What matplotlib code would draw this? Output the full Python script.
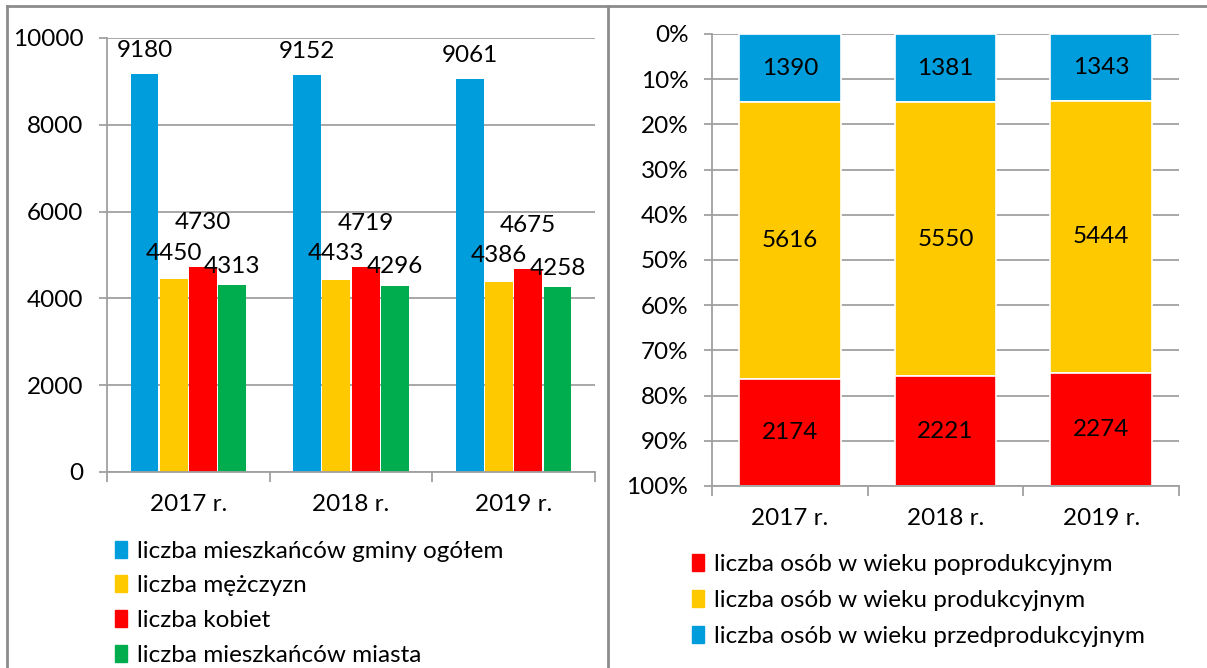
import numpy as np
import matplotlib.pyplot as plt
from matplotlib.patches import Patch
from matplotlib.lines import Line2D
from matplotlib.ticker import FuncFormatter

plt.rcParams['font.family'] = ['Lato', 'DejaVu Sans']

# data
years = ['2017 r.', '2018 r.', '2019 r.']
ogolem = [9180, 9152, 9061]
mezczyzni = [4450, 4433, 4386]
kobiety = [4730, 4719, 4675]
miasto = [4313, 4296, 4258]

przedprod = [1390, 1381, 1343]
produkcyjny = [5616, 5550, 5444]
poprod = [2174, 2221, 2274]

BLUE = '#009ddc'
YELLOW = '#ffc900'
RED = '#ff0000'
GREEN = '#00ad4e'
GRID = '#a0a0a0'
FS = 17.5

W, H = 1207, 668
fig = plt.figure(figsize=(W / 100, H / 100), dpi=100)


def px(x0, y0, x1, y1):
    # pixel box -> figure fraction rect
    return [x0 / W, 1 - y1 / H, (x1 - x0) / W, (y1 - y0) / H]


def style_axes(ax):
    for s in ['top', 'right']:
        ax.spines[s].set_visible(False)
    for s in ['left', 'bottom']:
        ax.spines[s].set_color(GRID)
        ax.spines[s].set_linewidth(1.3)
    ax.grid(axis='y', color=GRID, linewidth=1.3)
    ax.set_axisbelow(True)
    ax.tick_params(axis='y', length=6, width=1.3, color=GRID, labelsize=FS, pad=11)
    ax.tick_params(axis='x', which='minor', length=7, width=1.3, color=GRID)
    ax.tick_params(axis='x', which='major', length=0, labelsize=FS, pad=16)


# left chart: grouped bars
ax1 = fig.add_axes(px(107, 38, 595, 472))
x = np.arange(len(years))
bw = 0.18
# (values, colour, legend label, label offset in pt above bar top)
series = [(ogolem, BLUE, 'liczba mieszkańców gminy ogółem', 16.5),
          (mezczyzni, YELLOW, 'liczba mężczyzn', 18.5),
          (kobiety, RED, 'liczba kobiet', 31.5),
          (miasto, GREEN, 'liczba mieszkańców miasta', 13.5)]
for i, (vals, col, lab, off) in enumerate(series):
    pos = x + (i - 1.5) * bw
    ax1.bar(pos, vals, bw * 0.95, color=col, label=lab, zorder=2)
    for p, v in zip(pos, vals):
        ax1.annotate(str(v), (p, v), xytext=(0, off), textcoords='offset points',
                     ha='center', va='center', fontsize=FS)
ax1.set_ylim(0, 10000)
ax1.set_yticks(np.arange(0, 10001, 2000))
ax1.set_xlim(-0.5, 2.5)
ax1.set_xticks(x)
ax1.set_xticklabels(years)
ax1.set_xticks(np.arange(-0.5, 3, 1), minor=True)
style_axes(ax1)

handles1 = [Patch(color=c, label=l) for _, c, l, _ in series]
fig.legend(handles=handles1, loc='upper left', bbox_to_anchor=(105 / W, 1 - 531 / H),
           frameon=False, fontsize=FS, handlelength=0.5, handleheight=0.7,
           handletextpad=0.4, labelspacing=0.56, borderaxespad=0)

# right chart: 100% stacked, inverted axis
ax2 = fig.add_axes(px(712, 34, 1179, 486))
tot = np.array(przedprod) + np.array(produkcyjny) + np.array(poprod)
stack = [(przedprod, BLUE, 'liczba osób w wieku przedprodukcyjnym'),
         (produkcyjny, YELLOW, 'liczba osób w wieku produkcyjnym'),
         (poprod, RED, 'liczba osób w wieku poprodukcyjnym')]
bottom = np.zeros(len(years))
for vals, col, lab in stack:
    share = np.array(vals) / tot
    ax2.bar(x, share, 0.655, bottom=bottom, color=col, edgecolor='white',
            linewidth=1.2, label=lab, zorder=2)
    for xi, b, s, v in zip(x, bottom, share, vals):
        ax2.text(xi, b + s / 2, str(v), ha='center', va='center', fontsize=FS)
    bottom += share
ax2.set_ylim(1, 0)
ax2.set_yticks(np.arange(0, 1.01, 0.1))
ax2.yaxis.set_major_formatter(FuncFormatter(lambda v, _: f'{v * 100:.0f}%'))
ax2.set_xlim(-0.5, 2.5)
ax2.set_xticks(x)
ax2.set_xticklabels(years)
ax2.set_xticks(np.arange(-0.5, 3, 1), minor=True)
style_axes(ax2)

handles2 = [Patch(color=c, label=l) for _, c, l in stack[::-1]]
fig.legend(handles=handles2, loc='upper left', bbox_to_anchor=(682 / W, 1 - 544 / H),
           frameon=False, fontsize=FS, handlelength=0.5, handleheight=0.7,
           handletextpad=0.4, labelspacing=0.63, borderaxespad=0)

# panel border
for xs, ys in [((7, W), (6, 6)), ((7, 7), (6, H)), ((608, 608), (6, H))]:
    fig.add_artist(Line2D([v / W for v in xs], [1 - v / H for v in ys],
                          color='#8c8c8c', linewidth=2))

fig.savefig('out.png', dpi=100)
